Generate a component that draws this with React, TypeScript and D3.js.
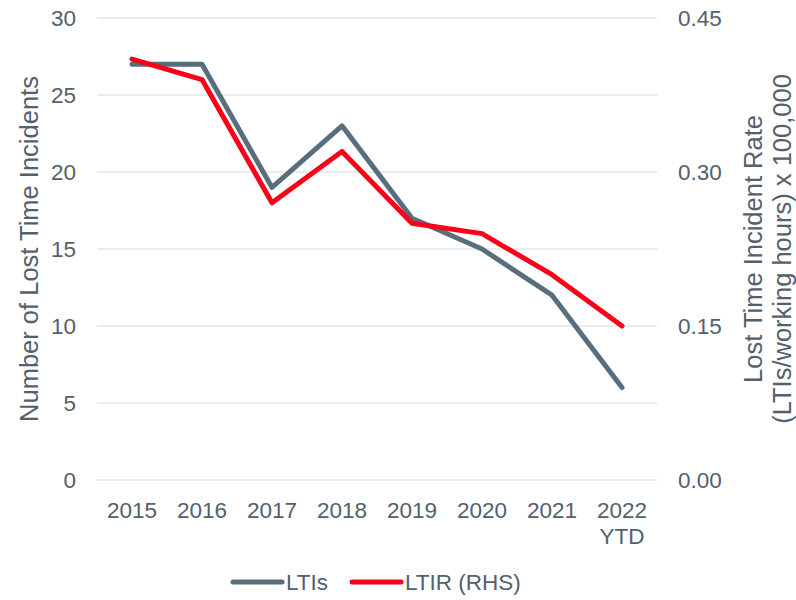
import React, { useEffect, useRef } from "react";
import * as d3 from "d3";

const years = ["2015", "2016", "2017", "2018", "2019", "2020", "2021", "2022\nYTD"];
const ltis = [27, 27, 19, 23, 17, 15, 12, 6];
const ltir = [0.41, 0.39, 0.27, 0.32, 0.25, 0.24, 0.2, 0.15];
const leftTicks = [0, 5, 10, 15, 20, 25, 30];
const rightTicks = [0, 0.15, 0.3, 0.45];

const App = () => {
  const ref = useRef<SVGSVGElement>(null);

  useEffect(() => {
    const svg = d3.select(ref.current);
    svg.selectAll("*").remove();

    const width = 796;
    const height = 600;
    const margin = { top: 18, right: 139, bottom: 120, left: 97 };
    const textColor = "#53606d";
    const font = "'Liberation Sans', Arial, sans-serif";
    const tickSize = 22.5;
    const titleSize = 25.5;

    const x = d3
      .scaleBand()
      .domain(years)
      .range([margin.left, width - margin.right]);
    const y = d3
      .scaleLinear()
      .domain([0, 30])
      .range([height - margin.bottom, margin.top]);
    const y2 = d3
      .scaleLinear()
      .domain([0, 0.45])
      .range([height - margin.bottom, margin.top]);

    const g = svg.attr("viewBox", [0, 0, width, height]).append("g");

    // gridlines
    g.append("g")
      .selectAll("line")
      .data(leftTicks)
      .join("line")
      .attr("x1", margin.left)
      .attr("x2", width - margin.right)
      .attr("y1", (d) => y(d))
      .attr("y2", (d) => y(d))
      .attr("stroke", "#e2e7eb")
      .attr("stroke-width", 1.5);

    // left tick labels
    g.append("g")
      .selectAll("text")
      .data(leftTicks)
      .join("text")
      .attr("x", 76)
      .attr("y", (d) => y(d))
      .attr("dy", "0.35em")
      .attr("text-anchor", "end")
      .attr("fill", textColor)
      .attr("font-family", font)
      .attr("font-size", tickSize)
      .text((d) => d);

    // right tick labels
    g.append("g")
      .selectAll("text")
      .data(rightTicks)
      .join("text")
      .attr("x", 678)
      .attr("y", (d) => y2(d))
      .attr("dy", "0.35em")
      .attr("fill", textColor)
      .attr("font-family", font)
      .attr("font-size", tickSize)
      .text((d) => d.toFixed(2));

    // x labels
    const xl = g
      .append("g")
      .selectAll("text")
      .data(years)
      .join("text")
      .attr("x", (d) => x(d)! + x.bandwidth() / 2)
      .attr("y", 518)
      .attr("text-anchor", "middle")
      .attr("fill", textColor)
      .attr("font-family", font)
      .attr("font-size", tickSize);
    xl.selectAll("tspan")
      .data((d) => d.split("\n"))
      .join("tspan")
      .attr("x", function () {
        return (this as any).parentNode.getAttribute("x");
      })
      .attr("dy", (d, i) => (i === 0 ? 0 : 26))
      .text((d) => d);

    // axis titles
    g.append("text")
      .attr("transform", `translate(38,${y(15)}) rotate(-90)`)
      .attr("text-anchor", "middle")
      .attr("fill", textColor)
      .attr("font-family", font)
      .attr("font-size", titleSize)
      .text("Number of Lost Time Incidents");

    const rt = g
      .append("text")
      .attr("transform", `translate(762,${y(15)}) rotate(-90)`)
      .attr("text-anchor", "middle")
      .attr("fill", textColor)
      .attr("font-family", font)
      .attr("font-size", titleSize);
    rt.append("tspan").attr("x", 0).attr("dy", 0).text("Lost Time Incident Rate");
    rt.append("tspan").attr("x", 0).attr("dy", 29).text("(LTIs/working hours) x 100,000");

    const cx = (i: number) => x(years[i])! + x.bandwidth() / 2;

    const line1 = d3
      .line<number>()
      .x((d, i) => cx(i))
      .y((d) => y(d));
    const line2 = d3
      .line<number>()
      .x((d, i) => cx(i))
      .y((d) => y2(d));

    g.append("path")
      .datum(ltis)
      .attr("d", line1)
      .attr("fill", "none")
      .attr("stroke", "#596e7c")
      .attr("stroke-width", 5)
      .attr("stroke-linecap", "round")
      .attr("stroke-linejoin", "round");

    g.append("path")
      .datum(ltir)
      .attr("d", line2)
      .attr("fill", "none")
      .attr("stroke", "#fb0019")
      .attr("stroke-width", 5)
      .attr("stroke-linecap", "round")
      .attr("stroke-linejoin", "round");

    // legend
    const legend = [
      { label: "LTIs", color: "#596e7c", x: 233 },
      { label: "LTIR (RHS)", color: "#fb0019", x: 352 },
    ];
    const lg = g
      .append("g")
      .selectAll("g")
      .data(legend)
      .join("g")
      .attr("transform", (d) => `translate(${d.x},582)`);
    lg.append("line")
      .attr("x1", 0)
      .attr("x2", 49)
      .attr("stroke", (d) => d.color)
      .attr("stroke-width", 5)
      .attr("stroke-linecap", "round");
    lg.append("text")
      .attr("x", 53)
      .attr("dy", "0.35em")
      .attr("fill", textColor)
      .attr("font-family", font)
      .attr("font-size", tickSize)
      .text((d) => d.label);
  }, []);

  return (
    <svg
      ref={ref}
      width={796}
      height={600}
      style={{ position: "absolute", left: 0, top: 0 }}
    ></svg>
  );
};

export default App;
